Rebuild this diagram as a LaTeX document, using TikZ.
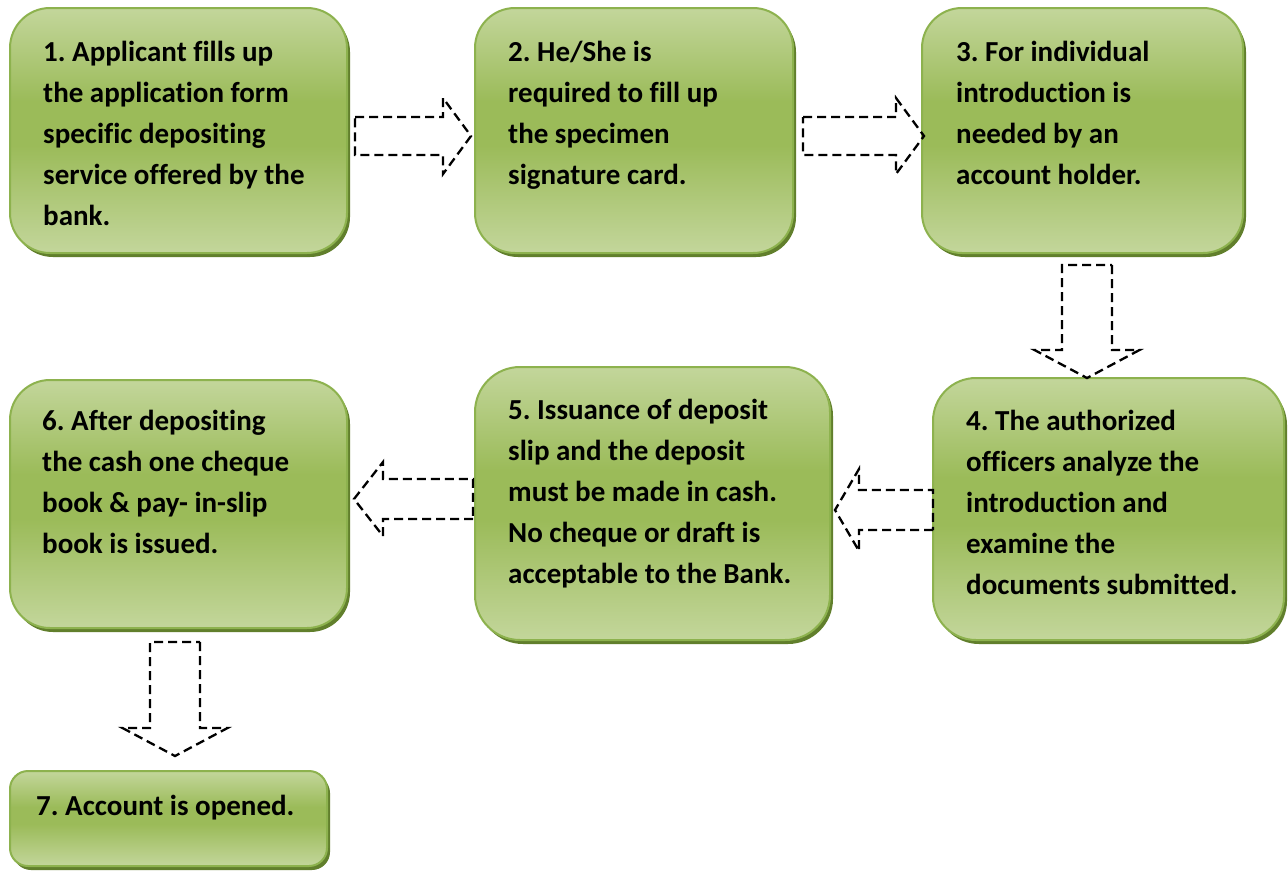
\documentclass[tikz,border=0pt]{standalone}
\usepackage{fontspec}
\setmainfont{Carlito}[Ligatures=NoCommon]
\frenchspacing
\usetikzlibrary{shadows,calc}
\definecolor{lightg}{HTML}{C3D69B}
\definecolor{darkg}{HTML}{9BBB59}
\definecolor{borderg}{HTML}{8DB24E}
\definecolor{shadowg}{HTML}{617F2C}
\pgfdeclareverticalshading{greenshade}{100bp}{color(0bp)=(lightg); color(25bp)=(lightg); color(47bp)=(darkg); color(56bp)=(darkg); color(75bp)=(lightg); color(100bp)=(lightg)}
\tikzset{
  gbox/.style={rectangle, draw=borderg, line width=2pt, shading=greenshade,
    general shadow={fill=shadowg, shadow xshift=3pt, shadow yshift=-4pt}},
  gtext/.style={anchor=base west, inner sep=0pt,
    font=\fontsize{29}{41}\selectfont\bfseries},
  barrow/.style={draw=black, line width=2.3pt, dash pattern=on 9pt off 5pt, line join=miter}
}
% #1 name, #2 tail, #3 angle, #4 length, #5 half shaft, #6 half head, #7 head length
\newcommand\blockarrow[7]{%
  \coordinate (#1) at #2;
  \draw[barrow, shift={#2}, rotate=#3] (0,-#5) -- ({#4-#7},-#5) -- ({#4-#7},-#6) -- (#4,0)
     -- ({#4-#7},#6) -- ({#4-#7},#5) -- (0,#5) -- cycle;}
\newcommand\tl[1]{\begin{tabular}[t]{@{}l@{}}#1\end{tabular}}
\begin{document}
\begin{tikzpicture}[x=1pt,y=-1pt]
\useasboundingbox (0,0) rectangle (1288,871);
\fill[white] (0,0) rectangle (1288,871);
% boxes
\node[gbox, rounded corners=40pt, minimum width=337pt, minimum height=245pt] (b1) at (178.5,130.5) {};
\node[gbox, rounded corners=40pt, minimum width=318pt, minimum height=245pt] (b2) at (634,130.5) {};
\node[gbox, rounded corners=40pt, minimum width=321pt, minimum height=245pt] (b3) at (1082.5,130.5) {};
\node[gbox, rounded corners=43pt, minimum width=351pt, minimum height=262pt] (b4) at (1108.5,509) {};
\node[gbox, rounded corners=45pt, minimum width=355pt, minimum height=273pt] (b5) at (652.5,503.5) {};
\node[gbox, rounded corners=40pt, minimum width=337pt, minimum height=248pt] (b6) at (178.5,504) {};
\node[gbox, rounded corners=18pt, minimum width=317pt, minimum height=95pt] (b7) at (168.5,818.5) {};
% texts
\node[gtext] (t1) at (43,61) {\tl{1. Applicant fills up\\the application form\\specific depositing\\service offered by the\\bank.}};
\node[gtext] (t2) at (508,61) {\tl{2. He/She is\\required to fill up\\the specimen\\signature card.}};
\node[gtext] (t3) at (956,61) {\tl{3. For individual\\introduction is\\needed by an\\account holder.}};
\node[gtext] (t4) at (966,430) {\tl{4. The authorized\\officers analyze the\\introduction and\\examine the\\documents submitted.}};
\node[gtext] (t5) at (508,419) {\tl{5. Issuance of deposit\\slip and the deposit\\must be made in cash.\\No cheque or draft is\\acceptable to the Bank.}};
\node[gtext] (t6) at (42,430) {\tl{6. After depositing\\the cash one cheque\\book \& pay- in-slip\\book is issued.}};
\node[gtext] (t7) at (36,815) {\tl{7. Account is opened.}};
% block arrows
\blockarrow{a12}{(355,136)}{0}{116}{19}{38}{28}
\blockarrow{a23}{(803,136)}{0}{121}{19}{38}{28}
\blockarrow{a34}{(1087,265)}{-90}{113}{25}{52.5}{28}
\blockarrow{a45}{(933,510)}{180}{98}{20}{41}{24}
\blockarrow{a56}{(473,499)}{180}{119}{20}{37}{29}
\blockarrow{a67}{(175,642)}{-90}{114}{25}{52.5}{28}
\end{tikzpicture}
\end{document}
